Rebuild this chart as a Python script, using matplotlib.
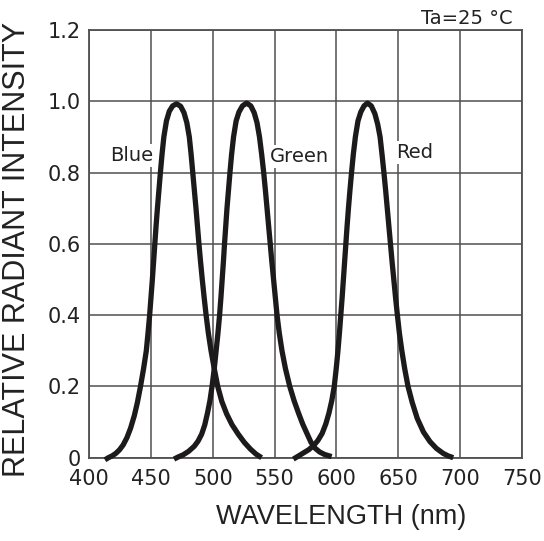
import matplotlib
matplotlib.use("Agg")
import matplotlib.pyplot as plt

plt.rcParams["font.family"] = ["DejaVu Sans"]

# ---------------------------
# Datos
# ---------------------------
blue_wl = [412.7, 415.5, 418.5, 421.5, 424.5, 427.5, 430.5, 433.5, 436.5, 439, 441.5, 444,
           446.2, 447.6, 448.9, 450, 451.1, 452.1, 453.1, 454.1, 455.2, 456.4, 457.6, 458.9,
           460.4, 462.5, 464.8, 467.5, 470.7, 474, 476.7, 479, 481, 482.5, 483.8, 485.1,
           486.4, 487.6, 488.8, 490.1, 491.5, 493, 494.6, 496.4, 498.6, 501.2, 504, 507.3,
           511.2, 515.5, 520.6, 525.5, 530.5, 535, 539.5]
blue_val = [-0.006, 0.0, 0.005, 0.012, 0.022, 0.036, 0.056, 0.083, 0.118, 0.155, 0.2, 0.25,
            0.3, 0.35, 0.4, 0.45, 0.5, 0.55, 0.6, 0.65, 0.7, 0.75, 0.8, 0.85,
            0.9, 0.945, 0.972, 0.987, 0.993, 0.986, 0.968, 0.94, 0.9, 0.85, 0.8, 0.75,
            0.7, 0.65, 0.6, 0.55, 0.5, 0.45, 0.4, 0.35, 0.3, 0.25, 0.2, 0.158,
            0.123, 0.093, 0.066, 0.043, 0.024, 0.01, 0.0]

green_wl = [468.6, 472, 476, 480.5, 485, 488, 491, 493.5, 495.7, 497.7, 499.4, 501.2, 502.7,
            504.2, 505.5, 506.6, 507.6, 508.6, 509.5, 510.5, 511.5, 512.7, 513.9, 515.2,
            516.8, 518.9, 521.2, 524, 527.4, 530.8, 533.5, 535.8, 537.8, 539.6, 541.2, 542.6,
            543.9, 545.2, 546.5, 547.8, 549.2, 550.6, 552, 553.8, 556, 558.8, 562.3, 565.8,
            569.4, 572.7, 576.2, 579.5, 583, 586.5, 590.5, 596.2]
green_val = [-0.004, 0.002, 0.008, 0.018, 0.032, 0.046, 0.066, 0.092, 0.125, 0.16, 0.2, 0.25,
             0.3, 0.35, 0.4, 0.45, 0.5, 0.55, 0.6, 0.65, 0.7, 0.75, 0.8, 0.85,
             0.9, 0.945, 0.97, 0.987, 0.995, 0.987, 0.968, 0.94, 0.9, 0.85, 0.8, 0.75,
             0.7, 0.65, 0.6, 0.55, 0.5, 0.45, 0.4, 0.35, 0.3, 0.25, 0.2, 0.16,
             0.125, 0.095, 0.068, 0.043, 0.026, 0.016, 0.009, 0.003]

red_wl = [565.2, 569, 573.2, 577.5, 581.3, 585, 588.5, 591.5, 594, 596.3, 598.3, 599.9,
          601.3, 602.5, 603.6, 604.7, 605.7, 606.7, 607.7, 608.7, 609.8, 611, 612.3, 613.7,
          615.4, 617.5, 619.8, 622.4, 625.2, 628.3, 631.2, 633.5, 635.4, 637, 638.5, 639.9,
          641.2, 642.5, 643.8, 645.1, 646.5, 647.9, 649.4, 651, 653, 655.3, 658, 661.4,
          665.5, 670.5, 675.8, 681, 686.5, 690.5, 694.6]
red_val = [-0.004, 0.004, 0.013, 0.022, 0.033, 0.048, 0.068, 0.095, 0.125, 0.16, 0.2, 0.25,
           0.3, 0.35, 0.4, 0.45, 0.5, 0.55, 0.6, 0.65, 0.7, 0.75, 0.8, 0.85,
           0.9, 0.945, 0.97, 0.987, 0.995, 0.987, 0.965, 0.935, 0.9, 0.85, 0.8, 0.75,
           0.7, 0.65, 0.6, 0.55, 0.5, 0.45, 0.4, 0.35, 0.3, 0.25, 0.2, 0.155,
           0.11, 0.072, 0.045, 0.026, 0.012, 0.005, 0.0]

x_ticks = [400, 450, 500, 550, 600, 650, 700, 750]
y_ticks = [0, 0.2, 0.4, 0.6, 0.8, 1.0, 1.2]
y_labels = ["0", "0.2", "0.4", "0.6", "0.8", "1.0", "1.2"]

# ---------------------------
# Figura
# ---------------------------
fig = plt.figure(figsize=(5.44, 5.41), dpi=100)
ax = fig.add_axes([0.164, 0.154, 0.795, 0.7905])

grid_col = "#505050"
txt_col = "#222222"
ax.set_xlim(400, 750)
ax.set_ylim(0, 1.2)
ax.set_xticks(x_ticks)
ax.set_yticks(y_ticks)
ax.set_yticklabels(y_labels)
ax.grid(True, color=grid_col, linewidth=1.1, zorder=1)
ax.set_axisbelow(True)
ax.tick_params(length=0, labelsize=15, colors=txt_col)
ax.tick_params(axis="x", pad=8)
ax.tick_params(axis="y", pad=6)
for s in ax.spines.values():
    s.set_color(grid_col)
    s.set_linewidth(1.3)

for wl, val in [(blue_wl, blue_val), (green_wl, green_val), (red_wl, red_val)]:
    ax.plot(wl, val, color="#1c1a1a", linewidth=3.8, solid_capstyle="butt",
            solid_joinstyle="round", zorder=4, clip_on=False)

box = dict(facecolor="white", edgecolor="none", pad=1.5)
ax.text(434, 0.847, "Blue", fontsize=14, ha="center", va="center", color=txt_col,
        bbox=box, zorder=3)
ax.text(570.5, 0.845, "Green", fontsize=14, ha="center", va="center", color=txt_col,
        bbox=box, zorder=3)
ax.text(663, 0.857, "Red", fontsize=14, ha="center", va="center", color=txt_col,
        bbox=box, zorder=3)

ax.text(0.98, 1.004, "Ta=25 \u00b0C", transform=ax.transAxes, fontsize=14,
        ha="right", va="bottom", color=txt_col)

ax.set_xlabel("WAVELENGTH (nm)", fontsize=19.5, color=txt_col, family="Liberation Sans")
ax.set_ylabel("RELATIVE RADIANT INTENSITY", fontsize=22, color=txt_col,
              family="Liberation Sans")
ax.xaxis.set_label_coords(0.583, -0.108)
ax.yaxis.set_label_coords(-0.133, 0.488)

fig.savefig("out.png", dpi=100)
